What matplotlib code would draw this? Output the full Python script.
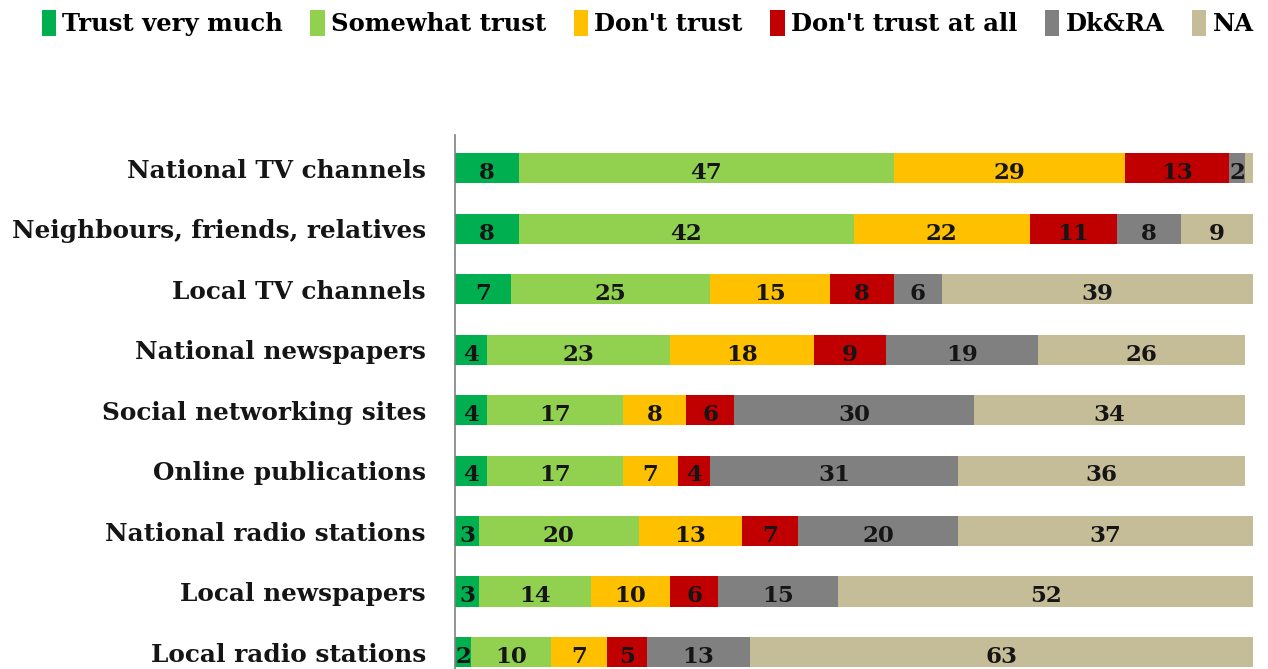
import matplotlib
matplotlib.use("Agg")
import matplotlib.pyplot as plt
import numpy as np

categories = [
    "National TV channels",
    "Neighbours, friends, relatives",
    "Local TV channels",
    "National newspapers",
    "Social networking sites",
    "Online publications",
    "National radio stations",
    "Local newspapers",
    "Local radio stations",
]
series_names = ["Trust very much", "Somewhat trust", "Don't trust",
                "Don't trust at all", "Dk&RA", "NA"]
trust_very_much = [8, 8, 7, 4, 4, 4, 3, 3, 2]
somewhat_trust = [47, 42, 25, 23, 17, 17, 20, 14, 10]
dont_trust = [29, 22, 15, 18, 8, 7, 13, 10, 7]
dont_trust_at_all = [13, 11, 8, 9, 6, 4, 7, 6, 5]
dk_ra = [2, 8, 6, 19, 30, 31, 20, 15, 13]
na = [1, 9, 39, 26, 34, 36, 37, 52, 63]

colors = ["#00B050", "#92D050", "#FFC000", "#C00000", "#808080", "#C4BD97"]
series = [trust_very_much, somewhat_trust, dont_trust, dont_trust_at_all, dk_ra, na]

fig = plt.figure(figsize=(12.68, 6.69), dpi=100)
ax = fig.add_axes([455 / 1268, 0, (1253 - 455) / 1268, (669 - 135) / 669])

y = np.arange(len(categories))
left = np.zeros(len(categories))
handles = []
for name, vals, col in zip(series_names, series, colors):
    vals = np.array(vals, dtype=float)
    bars = ax.barh(y, vals, left=left, height=0.5, color=col, label=name)
    handles.append(bars)
    for yi, l, v in zip(y, left, vals):
        if v >= 1.5:
            ax.text(l + v / 2, yi + 0.08, f"{int(v)}", ha="center", va="center",
                    fontsize=16.5, fontweight="bold", family="DejaVu Serif",
                    color="#151515")
    left += vals

ax.set_xlim(0, 100)
ax.set_ylim(8.28, -0.55)
ax.set_yticks(y)
ax.set_yticklabels(categories, fontsize=17.8, fontweight="bold",
                   family="DejaVu Serif", color="#151515")
ax.tick_params(axis="y", length=0, pad=21)
ax.set_xticks([])
for s in ["top", "right", "bottom"]:
    ax.spines[s].set_visible(False)
ax.spines["left"].set_color("#808080")
ax.spines["left"].set_linewidth(1.2)

fig.legend(handles=handles, labels=series_names, loc="upper center",
           bbox_to_anchor=(0.5107, 1.018), ncol=6, frameon=False,
           handlelength=0.6, handleheight=1.3, handletextpad=0.25,
           columnspacing=1.13,
           prop={"family": "DejaVu Serif", "weight": "bold", "size": 17.5})

fig.savefig("out.png", dpi=100)
